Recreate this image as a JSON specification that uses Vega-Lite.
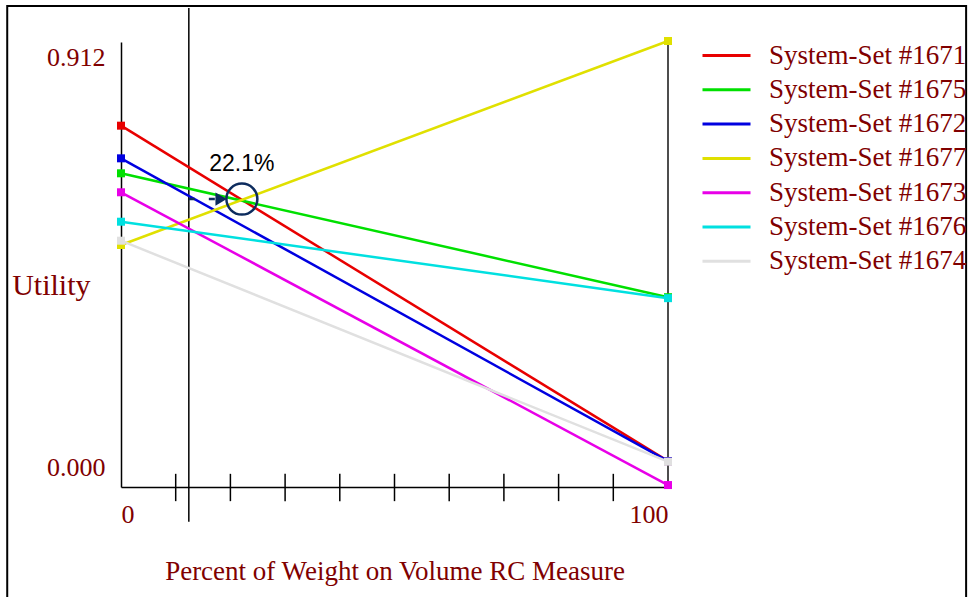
{
  "$schema": "https://vega.github.io/schema/vega-lite/v6.json",
  "width": 547,
  "height": 445,
  "autosize": {"type": "none"},
  "padding": {"left": 121, "top": 42, "right": 304, "bottom": 110},
  "background": "white",
  "config": {"view": {"stroke": null}},
  "datasets": {
    "series": [
      {"set": "System-Set #1671", "pct": 0, "u": 0.7405},
      {"set": "System-Set #1671", "pct": 100, "u": 0.053},
      {"set": "System-Set #1675", "pct": 0, "u": 0.6429},
      {"set": "System-Set #1675", "pct": 100, "u": 0.389},
      {"set": "System-Set #1672", "pct": 0, "u": 0.6736},
      {"set": "System-Set #1672", "pct": 100, "u": 0.053},
      {"set": "System-Set #1677", "pct": 0, "u": 0.496},
      {"set": "System-Set #1677", "pct": 100, "u": 0.914},
      {"set": "System-Set #1673", "pct": 0, "u": 0.604},
      {"set": "System-Set #1673", "pct": 100, "u": 0.004},
      {"set": "System-Set #1676", "pct": 0, "u": 0.5437},
      {"set": "System-Set #1676", "pct": 100, "u": 0.387},
      {"set": "System-Set #1674", "pct": 0, "u": 0.5048},
      {"set": "System-Set #1674", "pct": 100, "u": 0.052}
    ],
    "ticks": [
      {"pct": 10, "u": 0.027, "u2": -0.029},
      {"pct": 20, "u": 0.027, "u2": -0.029},
      {"pct": 30, "u": 0.027, "u2": -0.029},
      {"pct": 40, "u": 0.027, "u2": -0.029},
      {"pct": 50, "u": 0.027, "u2": -0.029},
      {"pct": 60, "u": 0.027, "u2": -0.029},
      {"pct": 70, "u": 0.027, "u2": -0.029},
      {"pct": 80, "u": 0.027, "u2": -0.029},
      {"pct": 90, "u": 0.027, "u2": -0.029}
    ],
    "frame": [{"pct": -20.8, "pct2": 154.5, "u": 0.9858, "u2": -0.26}],
    "current": [{"pct": 12.4, "u": 0.9817, "u2": -0.0711}],
    "rightaxis": [{"pct": 100, "u": 0, "u2": 0.914}],
    "cross": [{"pct": 22.1, "u": 0.590, "label": "22.1%", "ulabel": 0.662, "pctArrowStart": 12.4, "pctArrowEnd": 17.4, "pctHead": 18.3}]
  },
  "layer": [
    {
      "data": {"name": "frame"},
      "mark": {"type": "rect", "filled": false, "stroke": "black", "strokeWidth": 2},
      "encoding": {
        "x": {"field": "pct", "type": "quantitative"},
        "x2": {"field": "pct2"},
        "y": {"field": "u", "type": "quantitative"},
        "y2": {"field": "u2"}
      }
    },
    {
      "data": {"name": "ticks"},
      "mark": {"type": "rule", "color": "black", "strokeWidth": 1.5},
      "encoding": {
        "x": {"field": "pct", "type": "quantitative"},
        "y": {"field": "u", "type": "quantitative"},
        "y2": {"field": "u2"}
      }
    },
    {
      "data": {"name": "current"},
      "mark": {"type": "rule", "color": "black", "strokeWidth": 1.5},
      "encoding": {
        "x": {"field": "pct", "type": "quantitative"},
        "y": {"field": "u", "type": "quantitative"},
        "y2": {"field": "u2"}
      }
    },
    {
      "data": {"name": "rightaxis"},
      "mark": {"type": "rule", "color": "#4d4d4d", "strokeWidth": 2},
      "encoding": {
        "x": {"field": "pct", "type": "quantitative"},
        "y": {"field": "u", "type": "quantitative"},
        "y2": {"field": "u2"}
      }
    },
    {
      "data": {"name": "series"},
      "mark": {"type": "line", "strokeWidth": 2.5},
      "encoding": {
        "x": {
          "field": "pct", "type": "quantitative",
          "scale": {"domain": [0, 100], "nice": false, "zero": false},
          "axis": {
            "values": [0, 100], "ticks": false, "grid": false,
            "domainColor": "black", "domainWidth": 1.5,
            "labelFont": "Liberation Serif", "labelFontSize": 26, "labelColor": "#800000",
            "labelPadding": 14, "labelFlush": true,
            "title": "Percent of Weight on Volume RC Measure",
            "titleFont": "Liberation Serif", "titleFontSize": 27, "titleFontWeight": "normal",
            "titleColor": "#800000", "titlePadding": 31
          }
        },
        "y": {
          "field": "u", "type": "quantitative",
          "scale": {"domain": [0, 0.912], "nice": false},
          "axis": {
            "values": [0, 0.912], "format": ".3f", "ticks": false, "grid": false,
            "domainColor": "black", "domainWidth": 1.5,
            "labelFont": "Liberation Serif", "labelFontSize": 26, "labelColor": "#800000",
            "labelPadding": 16, "labelBaseline": "middle",
            "labelOffset": {"condition": {"test": "datum.value > 0.5", "value": 15}, "value": -20},
            "title": "Utility", "titleAngle": 0, "titleAlign": "right", "titleBaseline": "middle",
            "titleX": -31, "titleY": 243,
            "titleFont": "Liberation Serif", "titleFontSize": 30, "titleFontWeight": "normal", "titleColor": "#800000"
          }
        },
        "color": {
          "field": "set", "type": "nominal",
          "scale": {
            "domain": ["System-Set #1671", "System-Set #1675", "System-Set #1672", "System-Set #1677", "System-Set #1673", "System-Set #1676", "System-Set #1674"],
            "range": ["#e80000", "#00e000", "#0000e0", "#e0e000", "#e800e8", "#00e0e0", "#e0e0e0"]
          },
          "legend": {
            "orient": "none", "legendX": 592, "legendY": 0, "title": null,
            "symbolType": "M-4,0H4", "symbolSize": 144, "symbolStrokeWidth": 3,
            "labelFont": "Liberation Serif", "labelFontSize": 27, "labelColor": "#800000",
            "labelOffset": 29, "rowPadding": 6.3, "labelLimit": 400
          }
        }
      }
    },
    {
      "data": {"name": "series"},
      "mark": {"type": "point", "shape": "square", "filled": true, "size": 64, "opacity": 1},
      "encoding": {
        "x": {"field": "pct", "type": "quantitative"},
        "y": {"field": "u", "type": "quantitative"},
        "color": {"field": "set", "type": "nominal"}
      }
    },
    {
      "data": {"name": "cross"},
      "mark": {"type": "rule", "color": "#0d2c5e", "strokeWidth": 2.5, "strokeDash": [6, 14]},
      "encoding": {
        "x": {"field": "pctArrowStart", "type": "quantitative"},
        "x2": {"field": "pctArrowEnd"},
        "y": {"field": "u", "type": "quantitative"}
      }
    },
    {
      "data": {"name": "cross"},
      "mark": {"type": "point", "shape": "triangle-right", "filled": true, "size": 170, "color": "#0d2c5e", "opacity": 1},
      "encoding": {
        "x": {"field": "pctHead", "type": "quantitative"},
        "y": {"field": "u", "type": "quantitative"}
      }
    },
    {
      "data": {"name": "cross"},
      "mark": {"type": "point", "shape": "circle", "filled": false, "size": 960, "strokeWidth": 2.5, "color": "#0d2c5e", "opacity": 1},
      "encoding": {
        "x": {"field": "pct", "type": "quantitative"},
        "y": {"field": "u", "type": "quantitative"}
      }
    },
    {
      "data": {"name": "cross"},
      "mark": {"type": "text", "font": "Liberation Sans", "fontSize": 23, "color": "black", "baseline": "middle", "align": "center"},
      "encoding": {
        "x": {"field": "pct", "type": "quantitative"},
        "y": {"field": "ulabel", "type": "quantitative"},
        "text": {"field": "label"}
      }
    }
  ]
}
